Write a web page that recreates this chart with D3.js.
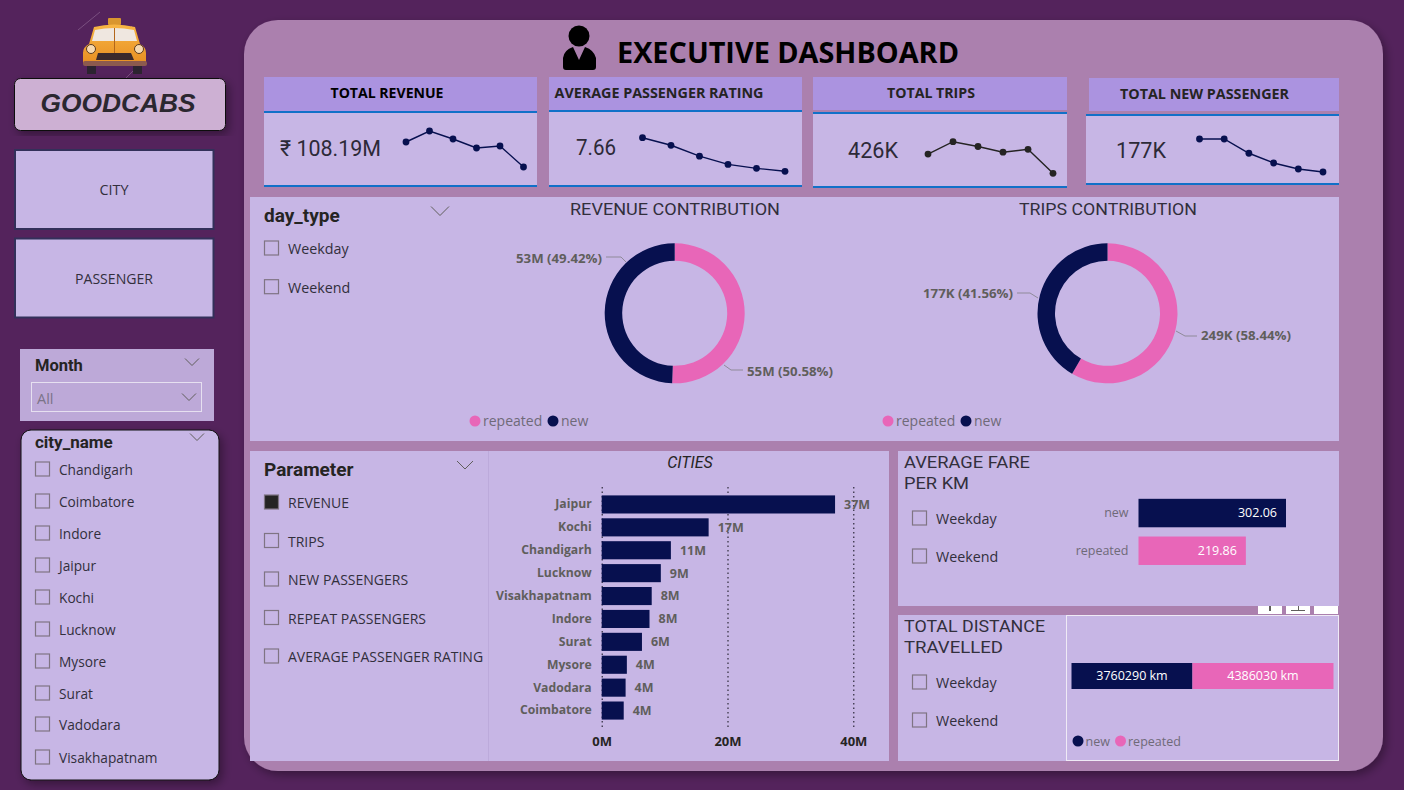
<!DOCTYPE html>
<html>
<head>
<meta charset="utf-8">
<script src="https://cdn.jsdelivr.net/npm/d3@7"></script>
<style>
html,body{margin:0;padding:0;background:#54235c;overflow:hidden}
svg{display:block}
text{font-family:"Open Sans",sans-serif}
</style>
</head>
<body>
<div id="chart"></div>
<script>
// data
var months = ['Jan','Feb','Mar','Apr','May','Jun'];
var revenueByMonth = [18.7,20.9,19.3,17.5,17.9,13.7];
var ratingByMonth = [8.19,7.96,7.63,7.38,7.26,7.17];
var tripsByMonth = [69.2,79,75.2,70.7,73,54];
var newPassByMonth = [38.5,38.5,29,22.5,18.5,16.5];

var passengerTypes = ['repeated','new'];
var revenueShare = [50.58,49.42];
var tripsShare = [58.44,41.56];

var cities = ['Jaipur','Kochi','Chandigarh','Lucknow','Visakhapatnam','Indore','Surat','Mysore','Vadodara','Coimbatore'];
var cityRevenue = [37.1,17,11,9.4,7.95,7.6,6.4,4,3.8,3.5];
var cityTicks = [0,20,40];

var fareTypes = ['new','repeated'];
var fareValues = [302.06,219.86];
var distanceTypes = ['new','repeated'];
var distanceValues = [3760290,4386030];

var cityNames = ['Chandigarh','Coimbatore','Indore','Jaipur','Kochi','Lucknow','Mysore','Surat','Vadodara','Visakhapatnam'];
var dayTypes = ['Weekday','Weekend'];
var parameters = ['REVENUE','TRIPS','NEW PASSENGERS','REPEAT PASSENGERS','AVERAGE PASSENGER RATING'];

// colours
var navy = '#07104f', pink = '#e866b8', panel = '#c7b6e5', head = '#ab93e0', blue = '#1170c8',
	grey = '#605e5c', ink = '#252423';
var din = 'Roboto, sans-serif';

var svg = d3.select('#chart').append('svg').attr('width',1404).attr('height',790);

var defs = svg.append('defs');
var f = defs.append('filter').attr('id','shadow')
	.attr('x','-10%').attr('y','-10%').attr('width','120%').attr('height','120%');
f.append('feDropShadow').attr('dx',3).attr('dy',4).attr('stdDeviation',5).attr('flood-color','#000').attr('flood-opacity',.35);
var grad = defs.append('linearGradient').attr('id','cab').attr('x1',0).attr('x2',0).attr('y1',0).attr('y2',1);
grad.append('stop').attr('offset',0).attr('stop-color','#f7b544');
grad.append('stop').attr('offset',1).attr('stop-color','#e88f22');

function box(x,y,w,h,fill,extra){
	var r = svg.append('rect').attr('x',x).attr('y',y).attr('width',w).attr('height',h).attr('fill',fill);
	if(extra) extra(r);
	return r;
}
function label(x,y,s,size,color,opts){
	opts = opts || {};
	var t = svg.append('text').attr('x',x).attr('y',y).text(s)
		.attr('font-size',size).attr('fill',color)
		.attr('text-anchor',opts.anchor || 'start')
		.style('font-family',opts.font || null)
		.style('font-weight',opts.weight || null)
		.style('font-style',opts.style || null);
	if(opts.fit) t.attr('textLength',opts.fit).attr('lengthAdjust','spacingAndGlyphs');
	return t;
}
function chevron(cx,cy,w){
	svg.append('path').attr('d','M'+(cx-w)+','+(cy-w/2)+'L'+cx+','+(cy+w/2)+'L'+(cx+w)+','+(cy-w/2))
		.attr('fill','none').attr('stroke','#605e5c').attr('stroke-width',1);
}
function checks(list,x,y,step,size,checked){
	list.forEach(function(s,i){
		var yy = Array.isArray(step) ? step[i] : y+i*step;
		box(x+.5,yy-7,14,14,i===checked?ink:'none',function(r){r.attr('stroke','#7f7483').attr('stroke-width',1.2);});
		label(x+24,yy+6,s,size,'#322f3c');
	});
}

// main rounded panel
box(244,20,1139,751,'#ab80ae',function(r){r.attr('rx',34).attr('filter','url(#shadow)');});

// taxi
var taxi = svg.append('g');
[[78,30,100,12],[120,40,132,26],[88,72,100,62],[126,78,140,64]].forEach(function(s){
	taxi.append('line').attr('x1',s[0]).attr('y1',s[1]).attr('x2',s[2]).attr('y2',s[3]).attr('stroke','#7a4f80').attr('stroke-width',1);
});
taxi.append('rect').attr('x',108).attr('y',18).attr('width',13).attr('height',7).attr('rx',1).attr('fill','#d9962f');
taxi.append('path').attr('d','M94,27 Q114,22 135,27 L140,44 Q146,47 146,53 L146,64 L83,64 L83,53 Q83,47 89,44 Z').attr('fill','url(#cab)');
taxi.append('path').attr('d','M95,30 Q114,26 134,30 L137,41 L92,41 Z').attr('fill','#efe7e0');
taxi.append('line').attr('x1',114.5).attr('x2',114.5).attr('y1',28).attr('y2',53).attr('stroke','#b3661a');
taxi.append('path').attr('d','M98,53 L131,53 L134,60 L96,60 Z').attr('fill','#3b2a2c');
taxi.append('rect').attr('x',83).attr('y',61).attr('width',64).attr('height',5).attr('rx',2).attr('fill','#8c5a4e');
taxi.append('rect').attr('x',87).attr('y',66).attr('width',9).attr('height',8).attr('fill','#2c2430');
taxi.append('rect').attr('x',133).attr('y',66).attr('width',9).attr('height',8).attr('fill','#2c2430');
taxi.selectAll('circle').data([91,139]).enter().append('circle')
	.attr('cx',function(d){return d;}).attr('cy',49).attr('r',4.5).attr('fill','#f6d9b0').attr('stroke','#5a3a20');

// logo + buttons
box(14.5,78.5,211,52,'#cdb0d3',function(r){r.attr('rx',6).attr('stroke','#111').attr('stroke-width',1).attr('filter','url(#shadow)');});
label(118,112,'GOODCABS',25,'#2b2730',{anchor:'middle',font:'"Liberation Sans"',weight:700,style:'italic',fit:155});
[['CITY',150],['PASSENGER',238.5]].forEach(function(b){
	box(15,b[1],198.5,79,panel,function(r){r.attr('stroke','#33305a').attr('stroke-width',2);});
	label(114,b[1]+45,b[0],14,'#322f3c',{anchor:'middle',fit:b[0]==='CITY'?29:78});
});

// month slicer
box(20,349,194,72,'#bda9d8');
label(35,371,'Month',16.5,ink,{font:din,weight:700});
chevron(192,362,7);
box(31.5,382.5,170,29,'none',function(r){r.attr('stroke','#e6e0f0').attr('stroke-width',1);});
label(37,404,'All',14.5,'#7b7388');
chevron(189,397,7);

// city slicer
box(21,430,198,350,panel,function(r){r.attr('rx',10).attr('stroke','#111').attr('stroke-width',1).attr('filter','url(#shadow)');});
label(35,448,'city_name',17,ink,{font:din,weight:700});
chevron(197,437,7);
checks(cityNames,35,0,[469,501,533,565,597,629,661,693,724,757],13.7);

// header
svg.append('circle').attr('cx',579).attr('cy',36).attr('r',10.5).attr('fill','#000');
svg.append('path').attr('d','M563,67 L563,58 Q564,50 573,47 L579,60 L585,47 Q594,50 596,58 L596,67 Q596,70 593,70 L566,70 Q563,70 563,67 Z').attr('fill','#000');
label(788,63,'EXECUTIVE DASHBOARD',29,'#000',{anchor:'middle',weight:700,fit:342});

// kpi cards
var kpis = [
	{t:'TOTAL REVENUE',v:'\u20B9 108.19M',d:revenueByMonth,x:264,w:273,hy:77,hh:34,ly:112,by:185,tx:387,tw:113,ty:98,vx:280,vw:101,vy:156,sx:[406,523.5],sy:[167,131],c:navy},
	{t:'AVERAGE PASSENGER RATING',v:'7.66',d:ratingByMonth,x:549,w:253,hy:77,hh:33,ly:111,by:185,tx:659,tw:209,ty:98,vx:576,vw:40,vy:155,sx:[642.5,785],sy:[171.3,137.7],c:navy},
	{t:'TOTAL TRIPS',v:'426K',d:tripsByMonth,x:813,w:254,hy:77,hh:33,ly:113,by:186,tx:931,tw:88,ty:98,vx:848,vw:50,vy:158,sx:[928,1053],sy:[173.3,141.7],c:ink},
	{t:'TOTAL NEW PASSENGER',v:'177K',d:newPassByMonth,x:1086,w:253,hy:78,hh:33,ly:115,by:183,tx:1204.5,tw:169,ty:99,vx:1116,vw:50,vy:158,sx:[1199.5,1323],sy:[172,139],c:navy}
];
kpis.forEach(function(k){
	box(k.x,k.ly,k.w,k.by-k.ly,panel);
	box(k.x+(k.x===1086?3:0),k.hy,k.w-(k.x===1086?3:0),k.hh,head);
	box(k.x,k.ly-1,k.w,2,blue);
	box(k.x,k.by,k.w,2,blue);
	label(k.tx,k.ty,k.t,14.5,k.x===264?'#000':ink,{anchor:'middle',weight:700,fit:k.tw});
	label(k.vx,k.vy,k.v,22,'#2d2a38',{font:din,fit:k.vw});

	var xs = d3.scalePoint().domain(months).range(k.sx);
	var ys = d3.scaleLinear().domain(d3.extent(k.d)).range(k.sy);
	var line = d3.line().x(function(d,i){return xs(months[i]);}).y(function(d){return ys(d);});
	svg.append('path').datum(k.d).attr('d',line).attr('fill','none').attr('stroke',k.c).attr('stroke-width',1.4);
	svg.selectAll(null).data(k.d).enter().append('circle')
		.attr('cx',function(d,i){return xs(months[i]);})
		.attr('cy',function(d){return ys(d);})
		.attr('r',3.4).attr('fill',k.c);
});

// second row panel
box(250,197,1089,244,panel);
label(264,222,'day_type',19,ink,{font:din,weight:700});
chevron(440,211,9);
checks(dayTypes,264,248,38.7,14.3);

var colour = d3.scaleOrdinal().domain(passengerTypes).range([pink,navy]);
var pie = d3.pie().sort(null).startAngle(0).endAngle(2*Math.PI);
var arc = d3.arc().innerRadius(52.5).outerRadius(70);

var donuts = [
	{t:'REVENUE CONTRIBUTION',tw:210,d:revenueShare,cx:674.7,cy:313.3,tc:675,
		labels:['55M (50.58%)','53M (49.42%)'],
		lx:[747,602],ly:[376,263],an:['start','end'],
		ln:['M724,365L731,370L743,370','M606,257L621,257L626,262'],
		lg:[475,553]},
	{t:'TRIPS CONTRIBUTION',tw:178,d:tripsShare,cx:1107.5,cy:313.3,tc:1108,
		labels:['249K (58.44%)','177K (41.56%)'],
		lx:[1201,1013],ly:[340,298],an:['start','end'],
		ln:['M1176,331L1185,336L1197,336','M1017,293L1030,293L1038,298'],
		lg:[888,966]}
];
donuts.forEach(function(o){
	label(o.tc,215,o.t,16.5,'#322f3c',{anchor:'middle',font:din,fit:o.tw});
	var g = svg.append('g').attr('transform','translate('+o.cx+','+o.cy+')');
	g.selectAll('path').data(pie(o.d)).enter().append('path')
		.attr('d',arc).attr('fill',function(d,i){return colour(passengerTypes[i]);});
	o.labels.forEach(function(s,i){
		svg.append('path').attr('d',o.ln[i]).attr('fill','none').attr('stroke','#8f8a99').attr('stroke-width',1);
		label(o.lx[i],o.ly[i],s,13,grey,{anchor:o.an[i],weight:700,fit:s.length===12?86:90});
	});
	passengerTypes.forEach(function(p,i){
		svg.append('circle').attr('cx',o.lg[i]).attr('cy',421).attr('r',5.5).attr('fill',colour(p));
		label(o.lg[i]+8,426,p,14,'#6f6a78');
	});
});

// parameter panel
box(250,451,639,310,panel);
svg.append('line').attr('x1',488.5).attr('x2',488.5).attr('y1',451).attr('y2',761).attr('stroke','#bcaadb');
label(264,476,'Parameter',19,ink,{font:din,weight:700});
chevron(465,465,8);
checks(parameters,264,502,38.5,14,0);

// cities bar chart
label(690,468,'CITIES',16,ink,{anchor:'middle',style:'italic',font:din});
var x = d3.scaleLinear().domain([0,40]).range([601.7,853.3]);
var y = d3.scaleBand().domain(cities).range([493,722]).paddingInner(0.21).paddingOuter(0.105);

var xAxis = d3.axisBottom(x).tickValues(cityTicks).tickFormat(function(d){return d+'M';}).tickSize(243);
var gx = svg.append('g').attr('transform','translate(0,487)').call(xAxis);
gx.select('.domain').remove();
gx.selectAll('.tick line').attr('stroke','#1f1d2b').attr('stroke-dasharray','1.5,3').attr('stroke-width',1.1);
gx.selectAll('.tick text').attr('font-size',13).attr('fill',ink).style('font-weight',700).style('font-family','"Open Sans"').attr('dy','.35em').attr('y',254);

var yAxis = d3.axisLeft(y).tickSize(0).tickPadding(10);
var gy = svg.append('g').attr('transform','translate(601.7,0)').call(yAxis);
gy.select('.domain').remove();
gy.selectAll('.tick text').attr('font-size',12.2).attr('fill',grey).style('font-weight',700).style('font-family','"Open Sans"');

svg.selectAll('rect.bar').data(cityRevenue).enter().append('rect').classed('bar',true)
	.attr('x',x(0))
	.attr('y',function(d,i){return y(cities[i]);})
	.attr('width',function(d){return x(d)-x(0);})
	.attr('height',y.bandwidth())
	.attr('fill',navy);
svg.selectAll('text.val').data(cityRevenue).enter().append('text').classed('val',true)
	.attr('x',function(d){return x(d)+9;})
	.attr('y',function(d,i){return y(cities[i])+y.bandwidth()/2;})
	.attr('dy','.35em').attr('font-size',12.5).attr('fill',grey).style('font-weight',700)
	.text(function(d){return Math.round(d)+'M';});

// average fare
box(898,451,441,155,panel);
label(904,468,'AVERAGE FARE',17,'#322f3c',{font:din,fit:126});
label(904,489,'PER KM',17,'#322f3c',{font:din,fit:65});
checks(dayTypes,912,518,38,14.3);

var fx = d3.scaleLinear().domain([0,302.06]).range([1138.5,1286]);
var fy = d3.scaleBand().domain(fareTypes).range([494.2,569.6]).paddingInner(0.245).paddingOuter(0.1225);
var gf = svg.append('g').attr('transform','translate(1138.5,0)').call(d3.axisLeft(fy).tickSize(0).tickPadding(10));
gf.select('.domain').remove();
gf.selectAll('.tick text').attr('font-size',12.5).attr('fill','#6f6a78').style('font-family','"Open Sans"');
svg.selectAll('rect.fare').data(fareValues).enter().append('rect').classed('fare',true)
	.attr('x',fx(0)).attr('y',function(d,i){return fy(fareTypes[i]);})
	.attr('width',function(d){return fx(d)-fx(0);}).attr('height',fy.bandwidth())
	.attr('fill',function(d,i){return i===0?navy:pink;});
svg.selectAll('text.fareval').data(fareValues).enter().append('text').classed('fareval',true)
	.attr('x',function(d){return fx(d)-9;})
	.attr('y',function(d,i){return fy(fareTypes[i])+fy.bandwidth()/2;})
	.attr('dy','.35em').attr('text-anchor','end').attr('font-size',12.5).attr('fill','#fff')
	.text(function(d){return d.toFixed(2);});

// little toolbar left over in the screenshot
[1258,1286,1314].forEach(function(t){box(t,606,24,8,'#fff');});
box(1269,606,2,5,'#605e5c');
box(1291,610,14,1,'#605e5c');
box(1298,606,1,5,'#605e5c');

// total distance
box(898,615,441,146,panel);
label(904,632,'TOTAL DISTANCE',17,'#322f3c',{font:din,fit:141});
label(904,653,'TRAVELLED',17,'#322f3c',{font:din,fit:99});
checks(dayTypes,912,682,38,14.3);
box(1066.5,615.5,272,145,'none',function(r){r.attr('stroke','#efeaf5').attr('stroke-width',1);});

var stack = d3.stack().keys(distanceTypes)([{new:distanceValues[0],repeated:distanceValues[1]}]);
var dx = d3.scaleLinear().domain([0,d3.sum(distanceValues)]).range([1071.5,1333.5]);
var dc = d3.scaleOrdinal().domain(distanceTypes).range([navy,pink]);
svg.selectAll('rect.dist').data(stack).enter().append('rect').classed('dist',true)
	.attr('x',function(s){return dx(s[0][0]);}).attr('y',663)
	.attr('width',function(s){return dx(s[0][1])-dx(s[0][0]);}).attr('height',26)
	.attr('fill',function(s){return dc(s.key);});
svg.selectAll('text.dist').data(stack).enter().append('text').classed('dist',true)
	.attr('x',function(s){return (dx(s[0][0])+dx(s[0][1]))/2;}).attr('y',676)
	.attr('dy','.35em').attr('text-anchor','middle').attr('font-size',12.5).attr('fill','#fff')
	.text(function(s,i){return distanceValues[i]+' km';});
[[1078,'new'],[1120.5,'repeated']].forEach(function(l){
	svg.append('circle').attr('cx',l[0]).attr('cy',741).attr('r',5.5).attr('fill',dc(l[1]));
	label(l[0]+7.5,746,l[1],12.5,'#6f6a78');
});
</script>
</body>
</html>
